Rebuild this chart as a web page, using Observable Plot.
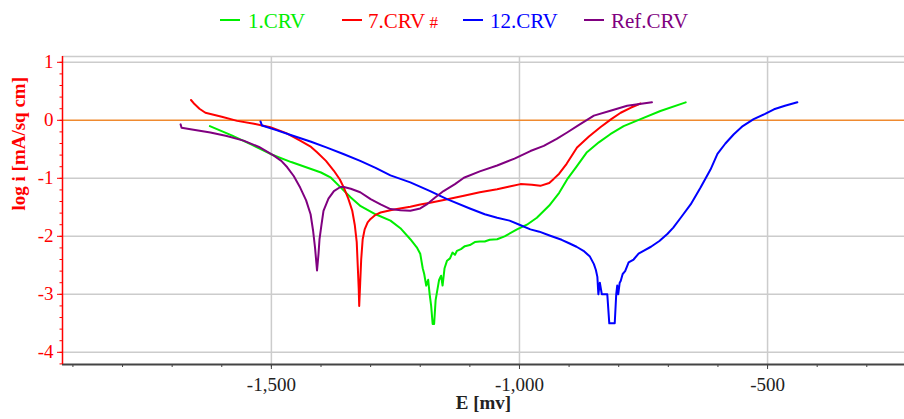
<!DOCTYPE html>
<html>
<head>
<meta charset="utf-8">
<script src="https://cdn.jsdelivr.net/npm/d3@7"></script>
<script src="https://cdn.jsdelivr.net/npm/@observablehq/plot@0.6"></script>
<style>
  html, body { margin: 0; padding: 0; background: #fff; }
  #wrap { position: relative; width: 904px; height: 419px; overflow: hidden; font-family: "Liberation Serif", serif; }
  #legend { position: absolute; left: 0; top: 0; width: 904px; height: 40px; }
  .sw { position: absolute; width: 20px; height: 2px; top: 19px; }
  .lt { position: absolute; top: 11px; font-size: 21px; line-height: 21px; white-space: nowrap; }
  #chart { position: absolute; left: 0; top: 40px; }
  #chart svg text { font-family: "Liberation Serif", serif; }
</style>
</head>
<body>
<div id="wrap">
  <div id="legend"></div>
  <div id="chart"></div>
</div>
<script>
// ---- data (E in mV, log i in mA/sq cm) ----
const seriesNames = ["1.CRV", "7.CRV", "12.CRV", "Ref.CRV"];
const seriesColors = ["#00ee00", "#ff0000", "#0000ff", "#800080"];

const crv1E = [-1624,-1580,-1540,-1502,-1460,-1420,-1400,-1380,-1360,-1340,-1320,-1290,-1260,-1240,-1220,-1207,-1200,-1195,-1192,-1188,-1184,-1181,-1178,-1175,-1172,-1169,-1166,-1162,-1158,-1155,-1151,-1146,-1140,-1135,-1130,-1126,-1118,-1110,-1100,-1090,-1080,-1070,-1060,-1045,-1030,-1005,-985,-965,-940,-920,-904,-885,-864,-840,-817,-790,-756,-716,-665];
const crv1I = [-0.10,-0.26,-0.42,-0.58,-0.72,-0.84,-0.90,-0.99,-1.16,-1.33,-1.48,-1.62,-1.73,-1.86,-2.05,-2.19,-2.30,-2.55,-2.65,-2.85,-2.75,-3.00,-3.20,-3.51,-3.51,-3.10,-2.95,-2.75,-2.68,-2.85,-2.55,-2.42,-2.38,-2.28,-2.32,-2.25,-2.22,-2.17,-2.15,-2.10,-2.09,-2.09,-2.06,-2.05,-2.00,-1.88,-1.80,-1.68,-1.47,-1.25,-1.02,-0.80,-0.55,-0.38,-0.24,-0.10,0.02,0.16,0.31];

const crv7E = [-1662,-1655,-1645,-1633,-1600,-1569,-1535,-1502,-1470,-1442,-1420,-1408,-1390,-1374,-1362,-1354,-1345,-1337,-1332,-1328,-1326,-1324,-1323,-1321,-1319,-1316,-1312,-1306,-1300,-1290,-1280,-1260,-1247,-1220,-1200,-1180,-1150,-1112,-1080,-1045,-1020,-998,-975,-958,-940,-931,-920,-905,-884,-860,-837,-815,-796,-775,-756];
const crv7I = [0.35,0.28,0.20,0.13,0.06,-0.01,-0.06,-0.12,-0.22,-0.35,-0.46,-0.55,-0.70,-0.87,-1.02,-1.16,-1.35,-1.56,-1.80,-2.10,-2.50,-2.90,-3.20,-2.80,-2.40,-2.05,-1.88,-1.76,-1.70,-1.63,-1.59,-1.55,-1.53,-1.49,-1.45,-1.42,-1.37,-1.30,-1.24,-1.19,-1.14,-1.10,-1.11,-1.13,-1.08,-1.01,-0.92,-0.75,-0.47,-0.28,-0.12,0.02,0.13,0.22,0.29];

const crv12E = [-1522,-1519,-1490,-1455,-1420,-1388,-1355,-1321,-1290,-1260,-1220,-1180,-1146,-1100,-1070,-1045,-1020,-1000,-978,-960,-938,-915,-900,-885,-871,-858,-850,-846,-843,-841,-838,-834,-828,-823,-819,-808,-805,-803,-801,-798,-796,-792,-787,-780,-770,-760,-750,-735,-718,-702,-690,-675,-655,-635,-615,-601,-585,-568,-550,-528,-505,-487,-465,-440];
const crv12I = [-0.02,-0.09,-0.17,-0.27,-0.37,-0.47,-0.58,-0.70,-0.82,-0.95,-1.07,-1.22,-1.36,-1.52,-1.62,-1.68,-1.73,-1.80,-1.88,-1.92,-1.99,-2.06,-2.12,-2.18,-2.25,-2.35,-2.48,-2.58,-2.70,-3.00,-2.80,-3.00,-3.00,-3.00,-3.50,-3.50,-3.00,-2.85,-3.00,-2.80,-2.77,-2.65,-2.60,-2.45,-2.40,-2.30,-2.25,-2.18,-2.08,-1.96,-1.85,-1.68,-1.45,-1.16,-0.85,-0.58,-0.40,-0.24,-0.10,0.02,0.11,0.19,0.25,0.31];

const refE = [-1683,-1681,-1660,-1623,-1590,-1556,-1525,-1495,-1480,-1468,-1455,-1442,-1430,-1421,-1416,-1412,-1408,-1405,-1403,-1399,-1395,-1385,-1374,-1361,-1354,-1340,-1321,-1300,-1280,-1260,-1240,-1220,-1200,-1187,-1170,-1153,-1130,-1112,-1080,-1045,-1010,-978,-951,-925,-904,-880,-850,-815,-783,-733];
const refI = [-0.07,-0.13,-0.16,-0.21,-0.27,-0.35,-0.46,-0.61,-0.70,-0.81,-0.96,-1.16,-1.38,-1.62,-1.90,-2.20,-2.59,-2.30,-2.05,-1.80,-1.56,-1.35,-1.22,-1.15,-1.15,-1.18,-1.24,-1.36,-1.45,-1.53,-1.55,-1.56,-1.52,-1.45,-1.33,-1.22,-1.10,-0.99,-0.88,-0.78,-0.66,-0.53,-0.44,-0.32,-0.21,-0.08,0.08,0.17,0.25,0.31];

// ---- axis ticks ----
const xMajorTicks = [-1500, -1000, -500];
const xMinorTicks = [-1900,-1800,-1700,-1600,-1500,-1400,-1300,-1200,-1100,-1000,-900,-800,-700,-600,-500,-400,-300];
const yMajorTicks = [1, 0, -1, -2, -3, -4];
const yMinorTicks = [1, 0.8, 0.6, 0.4, 0.2, 0, -0.2, -0.4, -0.6, -0.8, -1, -1.2, -1.4, -1.6, -1.8, -2, -2.2, -2.4, -2.6, -2.8, -3, -3.2, -3.4, -3.6, -3.8, -4, -4.2];
const xDomain = [-1921, -224];
const yDomain = [-4.21, 1.1];

const RED = "#ff0000";
const SERIF = "'Liberation Serif', serif";
const toRows = (E, I, s) => E.map((e, i) => ({E: e, logi: I[i], s}));
const rows = [
  ...toRows(crv1E, crv1I, seriesNames[0]),
  ...toRows(crv7E, crv7I, seriesNames[1]),
  ...toRows(crv12E, crv12I, seriesNames[2]),
  ...toRows(refE, refI, seriesNames[3])
];
const fmt = d => d.toLocaleString("en-US");

const chart = Plot.plot({
  width: 904,
  height: 379,
  marginTop: 16,
  marginBottom: 55,
  marginLeft: 62,
  marginRight: 0,
  style: {fontFamily: SERIF, fontSize: "19px", background: "#fff", color: "#222"},
  x: {domain: xDomain, axis: null},
  y: {domain: yDomain, axis: null},
  color: {domain: seriesNames, range: seriesColors},
  marks: [
    Plot.gridX({ticks: xMajorTicks, stroke: "#cccccc", strokeOpacity: 1, strokeWidth: 1.5}),
    Plot.gridY({ticks: yMajorTicks.filter(d => d !== 0), stroke: "#cccccc", strokeOpacity: 1, strokeWidth: 1.5}),
    Plot.ruleY([yDomain[1]], {stroke: "#cccccc", strokeWidth: 1.5}),
    Plot.ruleY([0], {stroke: "#ef8a2f", strokeWidth: 1.5}),
    Plot.line(rows, {x: "E", y: "logi", z: "s", stroke: "s", strokeWidth: 2, curve: "linear"}),
    Plot.axisX({ticks: xMinorTicks, tickSize: 3, tickFormat: () => "", stroke: "#444", label: null}),
    Plot.axisX({ticks: xMajorTicks, tickSize: 5, tickPadding: 8, tickFormat: fmt, stroke: "#444", fill: "#222", fontFamily: SERIF, fontSize: 19, label: null}),
    Plot.axisY({ticks: yMinorTicks, tickSize: 2.5, tickFormat: () => "", stroke: RED, label: null}),
    Plot.axisY({ticks: yMajorTicks, tickSize: 5, tickPadding: 4, tickFormat: d => String(d), stroke: RED, fill: RED, fontFamily: SERIF, fontSize: 19, label: null}),
    Plot.ruleY([yDomain[0]], {stroke: "#444", strokeWidth: 2}),
    Plot.ruleX([xDomain[0]], {stroke: RED, strokeWidth: 1.5}),
    Plot.text(["E [mv]"], {frameAnchor: "bottom", dy: 44, fontWeight: "bold", fontSize: 19, fontFamily: SERIF, fill: "#222"}),
    Plot.text(["log i [mA/sq cm]"], {frameAnchor: "left", dx: -44, rotate: -90, fontWeight: "bold", fontSize: 19, fontFamily: SERIF, fill: RED})
  ]
});
document.getElementById("chart").appendChild(chart);

// ---- legend ----
const legendItems = [
  {label: "1.CRV", extra: "", color: seriesColors[0], sw: 220, tx: 248},
  {label: "7.CRV", extra: " #", color: seriesColors[1], sw: 342, tx: 368},
  {label: "12.CRV", extra: "", color: seriesColors[2], sw: 463, tx: 490},
  {label: "Ref.CRV", extra: "", color: seriesColors[3], sw: 584, tx: 611}
];
const legend = document.getElementById("legend");
for (const it of legendItems) {
  const sw = document.createElement("div");
  sw.className = "sw"; sw.style.left = it.sw + "px"; sw.style.background = it.color;
  legend.appendChild(sw);
  const t = document.createElement("span");
  t.className = "lt"; t.style.left = it.tx + "px"; t.style.color = it.color;
  t.textContent = it.label;
  if (it.extra) {
    const h = document.createElement("span");
    h.style.fontSize = "17px";
    h.textContent = it.extra;
    t.appendChild(h);
  }
  legend.appendChild(t);
}
</script>
</body>
</html>
